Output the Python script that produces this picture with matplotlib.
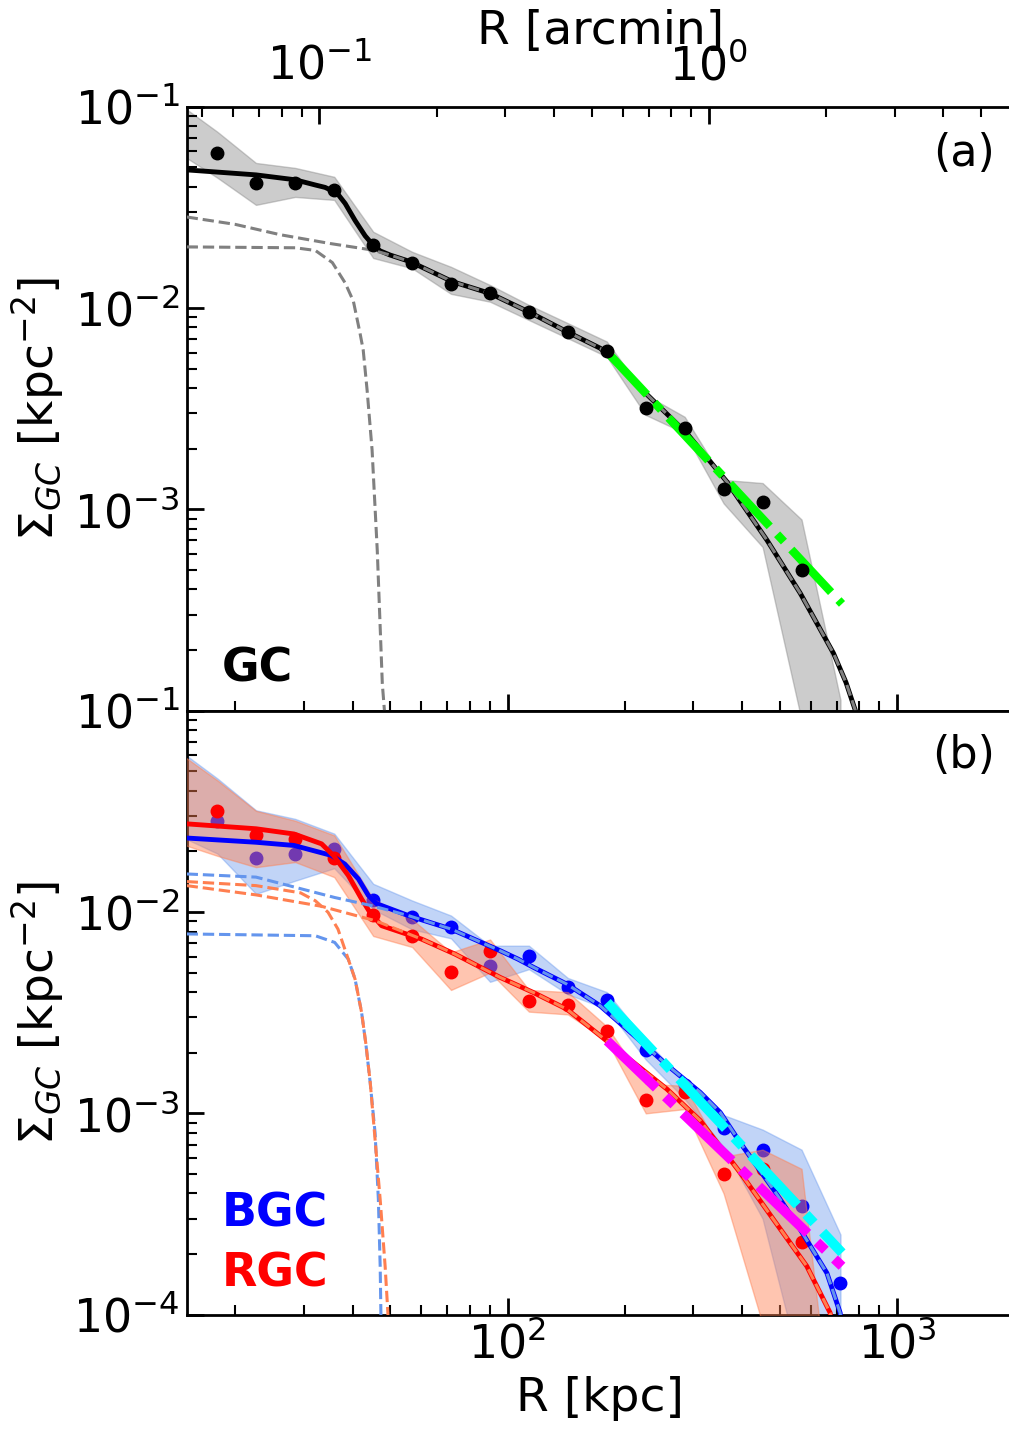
import numpy as np
import matplotlib
matplotlib.use('Agg')
from matplotlib import pyplot as plt
from matplotlib.ticker import FixedLocator

nan = np.nan

# radial bins [kpc]
r_bins = [14.3, 18.0, 22.6, 28.5, 35.9, 45.2, 56.9, 71.6, 90.2, 113.5, 142.9,
          179.9, 226.5, 285.1, 358.9, 451.9, 568.9, 716.2]

# (a) all GCs: density and band
gc = [nan, 0.0590, 0.0419, 0.0419, 0.0385, 0.0206, 0.0168, 0.01315, 0.01183, 0.00959,
      0.00762, 0.00614, 0.00318, 0.00252, 0.00126, 0.00109, 0.000499, nan]
gc_hi = [0.1036, 0.0749, 0.0525, 0.0496, 0.0448, 0.0239, 0.0190, 0.0160, 0.0130, 0.01035,
         0.0084, 0.00681, 0.0037, 0.00288, 0.0014, 0.00135, 0.00089, 0.000113]
gc_lo = [0.059, 0.0443, 0.0325, 0.0356, 0.0344, 0.0177, 0.01574, 0.01175, 0.01074, 0.00871,
         0.00707, 0.00573, 0.00294, 0.00239, 0.00107, 0.00065, 0.00009, 1e-6]

# (b) blue and red GCs
bgc = [nan, 0.0284, 0.0185, 0.0194, 0.0206, 0.01148, 0.00941, 0.00840, 0.00541, 0.00606,
       0.00425, 0.00366, 0.00207, 0.00139, 0.00085, 0.000655, 0.000348, 0.000144]
bgc_hi = [0.064, 0.046, 0.032, 0.029, 0.0245, 0.0138, 0.0114, 0.0096, 0.0068, 0.0068,
          0.0047, 0.0040, 0.0023, 0.00145, 0.00098, 0.00083, 0.00066, 0.00025]
bgc_lo = [0.024, 0.0195, 0.0123, 0.0143, 0.0165, 0.0103, 0.0082, 0.0074, 0.0045, 0.0052,
          0.0039, 0.0033, 0.00185, 0.00118, 0.00068, 0.0003, 0.000052, 1e-6]
rgc = [nan, 0.0316, 0.0240, 0.0231, 0.0185, 0.00966, 0.00757, 0.00501, 0.00637, 0.00362,
       0.00344, 0.00255, 0.00116, 0.00127, 0.00050, 0.00053, 0.000229, nan]
rgc_hi = [0.062, 0.045, 0.0318, 0.0284, 0.024, 0.0116, 0.0092, 0.0063, 0.0073, 0.0041,
          0.0040, 0.0027, 0.0014, 0.00137, 0.00061, 0.00066, 0.00053, 0.000012]
rgc_lo = [0.022, 0.019, 0.0167, 0.0177, 0.0149, 0.0076, 0.0067, 0.0041, 0.0050, 0.0032,
          0.0031, 0.0023, 0.0010, 0.00105, 0.0004, 0.00009, 1e-6, 1e-6]

# (a) model curves
r_tot_a = [15, 22.6, 28.5, 32.1, 34.0, 36.5, 38.3, 40.6, 43.1, 44.9, 47.1, 50, 56.2, 72.3,
           90.3, 114.4, 142.1, 173, 200, 228, 288.9, 366, 463.7, 564.6, 687, 740, 781, 800]
s_tot_a = [0.0485, 0.0458, 0.0433, 0.0408, 0.0397, 0.0372, 0.0330, 0.0272, 0.0228, 0.0208,
           0.0192, 0.0183, 0.0170, 0.0135, 0.0118, 0.00948, 0.00762, 0.00631, 0.00490,
           0.00372, 0.00238, 0.00137, 0.000703, 0.000383, 0.000193, 0.000138, 0.000101,
           0.000085]
r_ext_a = [15, 20, 26.1, 35, 44.9, 50, 56.2, 72.3, 90.3, 114.4, 142.1, 173, 200, 228,
           288.9, 366, 463.7, 564.6, 687, 740, 781, 800]
s_ext_a = [0.0283, 0.0260, 0.0231, 0.0209, 0.0194, 0.0183, 0.0170, 0.0135, 0.0118, 0.00948,
           0.00762, 0.00631, 0.00490, 0.00372, 0.00238, 0.00137, 0.000703, 0.000383,
           0.000193, 0.000138, 0.000101, 0.000085]
r_core_a = [15, 28.5, 32.1, 35.5, 38.3, 40.2, 41.8, 42.6, 43.6, 44.9, 46.3, 47.7, 48.3, 48.8]
s_core_a = [0.0201, 0.0199, 0.0193, 0.0168, 0.0133, 0.0108, 0.00751, 0.00619, 0.0039,
            0.00197, 0.000622, 0.000136, 0.0001, 0.00001]

# (b) model curves
r_tot_b = [15, 22.6, 28.3, 35.3, 38.2, 41.4, 43.9, 46.1, 55.6, 71.7, 95.8, 106.5, 116.6,
           142.1, 173, 210.7, 256.6, 312.6, 351.8, 396, 482, 564.6, 661, 715, 730]
s_tot_b = [0.0233, 0.0222, 0.0214, 0.0191, 0.0173, 0.0146, 0.0121, 0.0110, 0.0096, 0.00822,
           0.00642, 0.00583, 0.00531, 0.00438, 0.00342, 0.00245, 0.00174, 0.00127, 0.00101,
           0.000714, 0.000419, 0.000265, 0.000161, 0.000102, 0.00007]
r_ext_b = [15, 22.6, 36, 44.8, 55.6, 71.7, 95.8, 106.5, 116.6, 142.1, 173, 210.7, 256.6,
           312.6, 351.8, 396, 482, 564.6, 661, 715, 730]
s_ext_b = [0.01545, 0.0149, 0.0118, 0.01075, 0.0096, 0.00822, 0.00642, 0.00583, 0.00531,
           0.00438, 0.00342, 0.00245, 0.00174, 0.00127, 0.00101, 0.000714, 0.000419,
           0.000265, 0.000161, 0.000102, 0.00007]
r_core_b = [15, 32.1, 36.0, 39.0, 40.6, 42.2, 43.3, 44.4, 45.7, 46.6, 47.1, 47.3, 47.6]
s_core_b = [0.00778, 0.00762, 0.00706, 0.00583, 0.00464, 0.00317, 0.00219, 0.00142, 0.0008,
            0.000373, 0.000174, 0.000102, 0.00001]

r_tot_r = [15, 22.6, 28.3, 33.3, 35.7, 39.0, 42.2, 44.3, 47.5, 60.1, 73.3, 95.8, 116.6,
           142.1, 173, 210.7, 256.6, 312.6, 396, 482, 587, 674, 690]
s_tot_r = [0.0274, 0.0259, 0.0244, 0.0218, 0.0191, 0.0152, 0.0116, 0.00997, 0.00855,
           0.00734, 0.00618, 0.00473, 0.00398, 0.00329, 0.00243, 0.00179, 0.00132, 0.00092,
           0.000507, 0.000297, 0.000174, 0.000102, 0.00007]
r_ext_r = [15, 22.6, 33.3, 44.8, 47.5, 60.1, 73.3, 95.8, 116.6, 142.1, 173, 210.7, 256.6,
           312.6, 396, 482, 587, 674, 690]
s_ext_r = [0.01352, 0.01216, 0.01067, 0.00915, 0.0088, 0.00734, 0.00618, 0.00473, 0.00398,
           0.00329, 0.00243, 0.00179, 0.00132, 0.00092, 0.000507, 0.000297, 0.000174,
           0.000102, 0.00007]
r_core_r = [15, 22.6, 29.4, 32.1, 34.6, 36.7, 39.0, 40.6, 42.2, 43.3, 44.4, 47.1, 48.5, 49.3,
            49.8]
s_core_r = [0.01416, 0.01352, 0.01245, 0.01137, 0.00997, 0.00822, 0.00583, 0.00464, 0.00317,
            0.0022, 0.00143, 0.000373, 0.000174, 0.000102, 0.00001]

# power-law fits to the outer parts
fit_r = [180.3, 722.7]
fit_gc = [0.00604, 0.000339]
fit_bgc = [0.00356, 0.000203]
fit_rgc = [0.00229, 0.000174]

kpc_per_arcmin = 329.0
dashdot = (7, 1.3, 1.2, 1.3)

fig = plt.figure(figsize=(10.09, 14.29), dpi=100)
ax1 = fig.add_axes([0.185, 0.5027, 0.8201, 0.4227])
ax2 = fig.add_axes([0.185, 0.0800, 0.8201, 0.4227])

# panel (a)
ax1.fill_between(r_bins, gc_lo, gc_hi, color='gray', alpha=0.4, zorder=1)
ax1.plot(r_tot_a, s_tot_a, color='black', lw=3.5, zorder=3)
ax1.plot(r_ext_a, s_ext_a, color='gray', ls='--', lw=2.2, zorder=4)
ax1.plot(r_core_a, s_core_a, color='gray', ls='--', lw=2.2, zorder=4)
ax1.plot(fit_r, fit_gc, color='lime', lw=6, dashes=dashdot, zorder=5)
ax1.plot(r_bins, gc, 'o', color='black', ms=9, zorder=6)

# panel (b)
ax2.fill_between(r_bins, bgc_lo, bgc_hi, color='cornflowerblue', alpha=0.4, zorder=1)
ax2.plot(r_bins, bgc, 'o', color='blue', ms=9, zorder=2)
ax2.fill_between(r_bins, rgc_lo, rgc_hi, color='coral', alpha=0.45, zorder=3)
ax2.plot(r_bins, rgc, 'o', color='red', ms=9, zorder=4)
ax2.plot(r_tot_b, s_tot_b, color='blue', lw=3.5, zorder=5)
ax2.plot(r_tot_r, s_tot_r, color='red', lw=3.5, zorder=5)
ax2.plot(r_ext_b, s_ext_b, color='cornflowerblue', ls='--', lw=2.2, zorder=6)
ax2.plot(r_core_b, s_core_b, color='cornflowerblue', ls='--', lw=2.2, zorder=6)
ax2.plot(r_ext_r, s_ext_r, color='coral', ls='--', lw=2.2, zorder=6)
ax2.plot(r_core_r, s_core_r, color='coral', ls='--', lw=2.2, zorder=6)
ax2.plot(fit_r, fit_bgc, color='cyan', lw=7, dashes=dashdot, zorder=7)
ax2.plot(fit_r, fit_rgc, color='magenta', lw=7, dashes=dashdot, zorder=7)

for ax in (ax1, ax2):
    ax.set_xscale('log')
    ax.set_yscale('log')
    ax.set_xlim(15, 2000)
    ax.set_ylim(1e-4, 1e-1)
    ax.tick_params(which='both', direction='in', top=False, right=False,
                   labelsize=33, width=2, pad=5)
    ax.tick_params(which='major', length=12)
    ax.tick_params(which='minor', length=7.5, width=1.5)
    for s in ax.spines.values():
        s.set_linewidth(2)
    ax.set_ylabel(r'$\Sigma_{GC}$ [kpc$^{-2}$]', fontsize=34)
    ax.yaxis.set_label_coords(-0.146, 0.5)

ax1.yaxis.set_major_locator(FixedLocator([1e-3, 1e-2, 1e-1]))
ax1.tick_params(labelbottom=False)
ax2.set_xlabel('R [kpc]', fontsize=34, labelpad=6)

sec = ax1.secondary_xaxis('top', functions=(lambda r: r / kpc_per_arcmin,
                                            lambda a: a * kpc_per_arcmin))
sec.tick_params(which='both', direction='in', labelsize=33, width=2, pad=12)
sec.tick_params(which='major', length=12)
sec.tick_params(which='minor', length=7.5, width=1.5)
sec.set_xlabel('R [arcmin]', fontsize=34, labelpad=0)

ax1.text(0.977, 0.958, '(a)', transform=ax1.transAxes, ha='right', va='top', fontsize=32)
ax1.text(0.042, 0.0475, 'GC', transform=ax1.transAxes, ha='left', va='baseline',
         fontsize=33, fontweight='bold')
ax2.text(0.977, 0.962, '(b)', transform=ax2.transAxes, ha='right', va='top', fontsize=32)
ax2.text(0.043, 0.146, 'BGC', transform=ax2.transAxes, ha='left', va='baseline',
         fontsize=33, fontweight='bold', color='blue')
ax2.text(0.043, 0.047, 'RGC', transform=ax2.transAxes, ha='left', va='baseline',
         fontsize=33, fontweight='bold', color='red')

fig.savefig('out.png', dpi=100)
